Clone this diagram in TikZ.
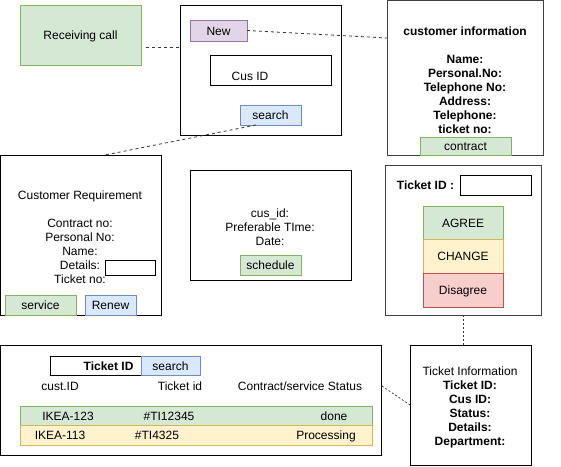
\documentclass[tikz,border=0pt]{standalone}
\usepackage{fontspec}
\setmainfont{Liberation Sans}
\usetikzlibrary{calc}
\definecolor{gF}{HTML}{D5E8D4}\definecolor{gS}{HTML}{82B366}
\definecolor{pF}{HTML}{E1D5E7}\definecolor{pS}{HTML}{9673A6}
\definecolor{bF}{HTML}{DAE8FC}\definecolor{bS}{HTML}{6C8EBF}
\definecolor{yF}{HTML}{FFF2CC}\definecolor{yS}{HTML}{D6B656}
\definecolor{rF}{HTML}{F8CECC}\definecolor{rS}{HTML}{B85450}
\begin{document}
\begin{tikzpicture}[x=1pt,y=-1pt,
  font=\fontsize{12}{14}\selectfont,
  box/.style={draw=black, line width=0.8pt, inner sep=0pt, outer sep=0pt, text height=10.5pt, text depth=1.5pt},
  gbox/.style={box, draw=black!75, line width=1pt},
  txt/.style={inner sep=0pt, outer sep=0pt, align=center, text height=10.5pt, text depth=1.5pt},
  mtxt/.style={inner sep=0pt, outer sep=0pt, align=center},
  dline/.style={draw=black!80, line width=0.8pt, dash pattern=on 3pt off 3pt},
  fline/.style={draw=black!80, line width=0.7pt, dash pattern=on 2pt off 2pt},
  gbtn/.style={box, fill=gF, draw=gS},
  pbtn/.style={box, fill=pF, draw=pS},
  bbtn/.style={box, fill=bF, draw=bS},
  ybtn/.style={box, fill=yF, draw=yS},
  rbtn/.style={box, fill=rF, draw=rS}]
\useasboundingbox (0,0) rectangle (561,466);

% Receiving call
\node[gbtn, minimum width=121pt, minimum height=60pt] (recv) at (80.5,35) {Receiving call};

% Box A
\node[box, minimum width=161pt, minimum height=130pt] (boxA) at (260.5,70) {};
\node[pbtn, minimum width=57pt, minimum height=21pt] (new) at (218.5,30.5) {New};
\node[box, minimum width=121pt, minimum height=30pt] (cusid) at (270.5,70) {};
\node[txt] (cusidt) at (250,76) {Cus ID};
\node[bbtn, minimum width=61pt, minimum height=20pt] (searchA) at (270.5,115) {search};

% customer information
\node[gbox, minimum width=156pt, minimum height=155pt] (custinfo) at (465,77.5) {};
\node[mtxt, font=\fontsize{12}{14}\selectfont\bfseries] (custinfot) at (465,80)
  {customer information\\[14pt]Name:\\Personal.No:\\Telephone No:\\Address:\\Telephone:\\ticket no:};
\node[gbtn, minimum width=91pt, minimum height=18pt] (contract) at (465.5,146) {contract};

% Ticket box
\node[gbox, minimum width=156pt, minimum height=150pt] (ticketbox) at (463,240) {};
\node[txt, font=\fontsize{12}{14}\selectfont\bfseries] (tidlbl) at (425.5,185) {Ticket ID :};
\node[box, minimum width=71pt, minimum height=20pt] (tidin) at (495.5,185) {};
\node[gbtn, minimum width=80pt, minimum height=33pt] (agree) at (463,222.5) {AGREE};
\node[ybtn, minimum width=80pt, minimum height=34pt] (change) at (463,256) {CHANGE};
\node[rbtn, minimum width=80pt, minimum height=34pt] (disagree) at (463,290) {Disagree};

% Customer Requirement
\node[box, minimum width=161pt, minimum height=160pt] (custreq) at (80.5,235) {};
\node[mtxt] (custreqt) at (80,237)
  {Customer Requirement\\[14pt]Contract no:\\Personal No:\\Name:\\Details:\\Ticket no:};
\node[box, fill=white, minimum width=50pt, minimum height=15pt] (details) at (130,267.5) {};
\node[gbtn, minimum width=71pt, minimum height=20pt] (service) at (40.5,305) {service};
\node[bbtn, minimum width=51pt, minimum height=20pt] (renew) at (110.5,305) {Renew};

% Schedule
\node[box, minimum width=161pt, minimum height=110pt] (sched) at (270.5,225) {};
\node[mtxt] (schedt) at (270,227.5) {cus\_id:\\Preferable TIme:\\Date:};
\node[gbtn, minimum width=61pt, minimum height=20pt] (schedbtn) at (270.5,265) {schedule};

% Bottom status box
\node[box, minimum width=381pt, minimum height=110pt] (bottom) at (190.5,400) {};
\node[box, minimum width=91pt, minimum height=19pt] (tidin2) at (95.5,365.5) {};
\node[txt, anchor=east, font=\fontsize{12}{14}\selectfont\bfseries] (tidin2t) at (133.5,365.5) {Ticket ID};
\node[bbtn, minimum width=59pt, minimum height=19pt] (search2) at (170.5,365.5) {search};
\node[txt] (h1) at (60,386) {cust.ID};
\node[txt] (h2) at (180,386) {Ticket id};
\node[txt] (h3) at (300,386) {Contract/service Status};
\node[gbtn, minimum width=352pt, minimum height=19pt] (row1) at (196,415.5) {};
\node[ybtn, minimum width=352pt, minimum height=20pt] (row2) at (196,435) {};
\node[txt] (r1a) at (68,415.5) {IKEA-123};
\node[txt] (r1b) at (169,415.5) {\#TI12345};
\node[txt] (r1c) at (334,415.5) {done};
\node[txt] (r2a) at (60,435) {IKEA-113};
\node[txt] (r2b) at (157,435) {\#TI4325};
\node[txt] (r2c) at (326,435) {Processing};

% Ticket Information
\node[box, minimum width=121pt, minimum height=120pt] (tinfo) at (470.5,405) {};
\node[mtxt] (tinfot) at (470,407.5)
  {Ticket Information\\\textbf{Ticket ID:}\\\textbf{Cus ID:}\\\textbf{Status:}\\\textbf{Details:}\\\textbf{Department:}};

% connectors
\draw[dline] ([xshift=5pt,yshift=-12pt]recv.east) -- ([yshift=-12pt]recv.east -| boxA.west);
\draw[dline] (new.east) -- ([yshift=-38pt]custinfo.north west);
\draw[dline] ([xshift=-14.5pt]searchA.south) -- ([xshift=24.5pt]custreq.north);
\draw[fline] (ticketbox.south) -- (ticketbox.south |- tinfo.north);
\draw[fline] ([xshift=1pt,yshift=14pt]bottom.east) -- (tinfo.west);
\end{tikzpicture}
\end{document}
